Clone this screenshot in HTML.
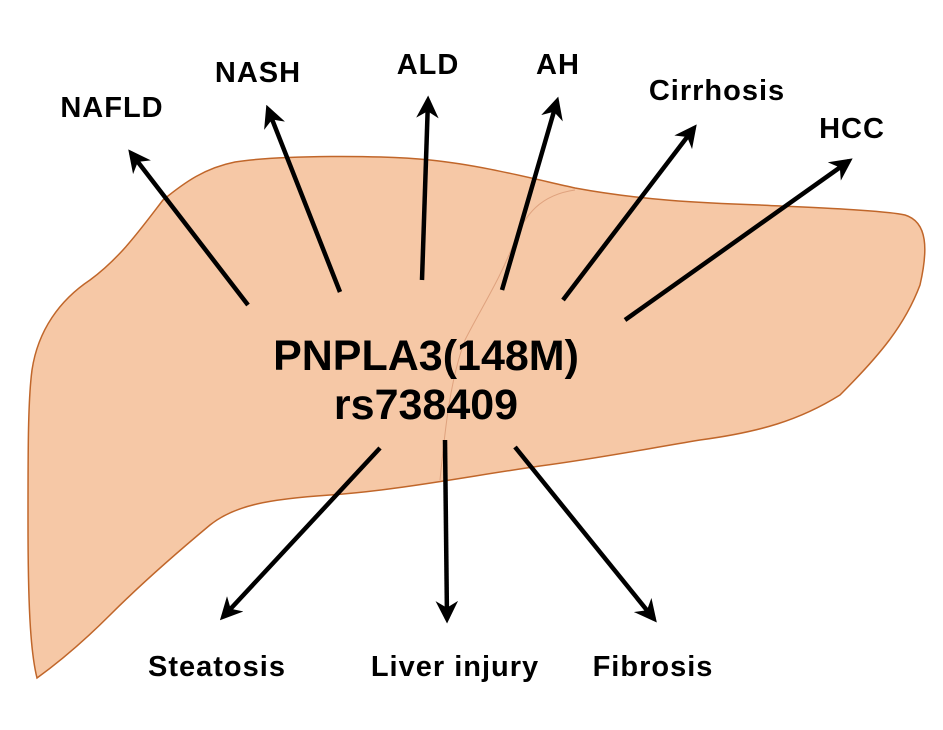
<!DOCTYPE html>
<html><head><style>
body{margin:0;background:#fff;}
svg text{font-family:"Liberation Sans",Arial,sans-serif;font-weight:bold;fill:#000;}
</style></head><body>
<svg width="943" height="725" viewBox="0 0 943 725" xmlns="http://www.w3.org/2000/svg">
<defs><marker id="a" viewBox="0 0 10 10" refX="8" refY="5" markerWidth="5" markerHeight="5" orient="auto"><path d="M0,0 L10,5 L0,10 L3,5 Z" fill="#000"/></marker></defs>
<path d="M163,200 C185,182 205,168 235,162 C280,155 380,155 430,160 C480,165 530,178 575,188 C640,200 700,203 760,205 C820,208 880,210 905,215 C928,222 928,250 920,285 C905,325 880,355 840,395 C800,420 760,432 700,440 C640,450 600,458 540,466 C470,476 400,490 330,495 C270,499 235,505 210,525 C180,550 140,585 110,615 C80,645 55,665 37,678 C30,650 28,600 28,520 C28,450 28,400 32,370 C38,330 60,300 90,280 C120,258 140,230 163,200 Z" fill="#f6c8a6" stroke="#c0662a" stroke-width="1.5"/>
<path d="M575,190 C540,195 525,215 515,240 C500,280 480,310 465,340 C450,380 445,430 440,480" fill="none" stroke="#dfa27e" stroke-width="1"/>
<g stroke="#000" stroke-width="4.5" marker-end="url(#a)">
<line x1="248" y1="305" x2="131" y2="153"/>
<line x1="340" y1="292" x2="268" y2="109"/>
<line x1="422" y1="280" x2="428" y2="100"/>
<line x1="502" y1="290" x2="557" y2="101"/>
<line x1="563" y1="300" x2="694" y2="128"/>
<line x1="625" y1="320" x2="849" y2="161"/>
<line x1="380" y1="448" x2="223" y2="617"/>
<line x1="445" y1="440" x2="447" y2="619"/>
<line x1="515" y1="447" x2="654" y2="619"/>
</g>
<g font-size="29" text-anchor="middle" letter-spacing="1">
<text x="112" y="117">NAFLD</text>
<text x="258" y="82">NASH</text>
<text x="428" y="74">ALD</text>
<text x="558" y="74">AH</text>
<text x="717" y="100">Cirrhosis</text>
<text x="852" y="138">HCC</text>
<text x="217" y="676">Steatosis</text>
<text x="455" y="676">Liver injury</text>
<text x="653" y="676">Fibrosis</text>
</g>
<g font-size="43" text-anchor="middle">
<text x="426" y="370">PNPLA3(148M)</text>
<text x="426" y="419">rs738409</text>
</g>
</svg>
</body></html>
